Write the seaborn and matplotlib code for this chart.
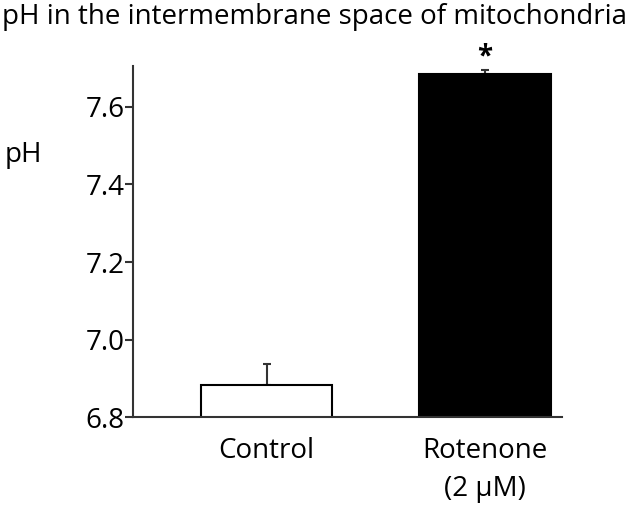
import matplotlib
matplotlib.use('Agg')
import matplotlib.pyplot as plt
import seaborn as sns
import pandas as pd

# Данные
groups = ['Control', 'Rotenone\n(2 µM)']
ph_mean = [6.884, 7.684]
ph_err = [0.053, 0.011]
bar_colors = ['white', 'black']
y_ticks = [6.8, 7.0, 7.2, 7.4, 7.6]

df = pd.DataFrame({'group': groups, 'pH': ph_mean})

sns.set_style('white')
plt.rcParams['font.family'] = ['Open Sans', 'DejaVu Sans']
plt.rcParams['text.color'] = 'black'
plt.rcParams['xtick.color'] = 'black'
plt.rcParams['ytick.color'] = 'black'

fig = plt.figure(figsize=(6.31, 5.05), dpi=100)
ax = fig.add_axes([0.2108, 0.1737, 0.6798, 0.6956])

sns.barplot(data=df, x='group', y='pH', hue='group', palette=bar_colors,
            legend=False, width=0.6, edgecolor='black', linewidth=1.5,
            ax=ax, zorder=2)

# только верхние усы
ax.errorbar(range(len(groups)), ph_mean, yerr=[[0] * len(groups), ph_err],
            fmt='none', ecolor='#333333', elinewidth=1.5, capsize=3,
            capthick=1.5, zorder=1)

ax.text(1, 7.728, '*', ha='center', va='center', fontsize=20,
        fontweight='bold', clip_on=False)

ax.set_ylim(6.8, 7.705)
ax.set_xlim(-0.611, 1.352)
ax.set_yticks(y_ticks)
ax.set_yticklabels([f'{t:.1f}' for t in y_ticks])
ax.set_xlabel('')
ax.set_ylabel('')

for s in ['top', 'right']:
    ax.spines[s].set_visible(False)
for s in ['left', 'bottom']:
    ax.spines[s].set_color('#333333')
    ax.spines[s].set_linewidth(1.5)

ax.tick_params(axis='y', length=6, width=1.5, color='#333333', pad=0,
               labelsize=20, labelcolor='black', direction='out', left=True)
ax.tick_params(axis='x', length=0, pad=14, labelsize=20, labelcolor='black')
for lbl in ax.get_xticklabels():
    lbl.set_linespacing(1.5)

fig.text(0.003, 0.966, 'pH in the intermembrane space of mitochondria',
         ha='left', va='center', fontsize=20)
fig.text(0.008, 0.693, 'pH', ha='left', va='center', fontsize=20)

fig.savefig('out.png', dpi=100)
